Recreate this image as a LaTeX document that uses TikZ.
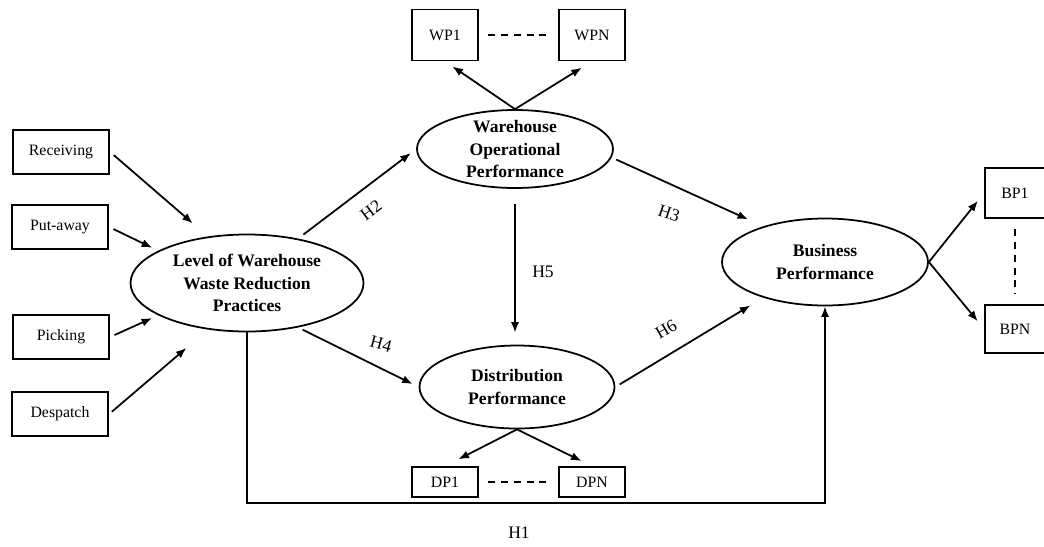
\documentclass[tikz,border=0pt]{standalone}
\usepackage{fontspec}
\setmainfont{Liberation Serif}
\usetikzlibrary{arrows.meta,shapes,positioning,calc}
\tikzset{
    causal/.style={-{Latex[length=9pt, width=7pt]}, line width=1.5pt},
    construct/.style={draw, ellipse, line width=1.5pt, inner sep=0pt, align=center, font=\fontsize{15}{19.5}\selectfont\bfseries},
    item/.style={draw, rectangle, line width=1.5pt, minimum width=2.9cm, minimum height=1.32cm, font=\fontsize{13.5}{16}\selectfont},
    link/.style={line width=1.5pt, dash pattern=on 6pt off 5pt},
    hyp/.style={font=\fontsize{15}{17}\selectfont}
}

\begin{document}
\begin{tikzpicture}[x=0.03cm, y=-0.03cm]
    \useasboundingbox (0,0) rectangle (1044,546);
    % practices
    \node[item] (rec) at (61,152) {Receiving};
    \node[item] (put) at (60,227) {Put-away};
    \node[item] (pick) at (61,337) {Picking};
    \node[item] (desp) at (60,414) {Despatch};
    % constructs
    \node[construct, minimum width=6.99cm, minimum height=2.91cm] (lwwrp) at (247,283) {Level of Warehouse\\Waste Reduction\\Practices};
    \node[construct, minimum width=5.88cm, minimum height=2.34cm, inner ysep=-4pt] (wop) at (515,149) {Warehouse\\Operational\\Performance};
    \node[construct, minimum width=5.85cm, minimum height=2.49cm] (dist) at (517,387) {Distribution\\Performance};
    \node[construct, minimum width=6.18cm, minimum height=2.61cm] (bus) at (825,262) {Business\\Performance};
    % indicators
    \node[item, minimum width=1.98cm, minimum height=1.53cm] (wp1) at (445,35) {WP1};
    \node[item, minimum width=1.98cm, minimum height=1.53cm] (wpn) at (592,35) {WPN};
    \node[item, minimum width=1.98cm, minimum height=0.9cm] (dp1) at (445,482) {DP1};
    \node[item, minimum width=1.98cm, minimum height=0.9cm] (dpn) at (592,482) {DPN};
    \node[item, minimum width=1.8cm, minimum height=1.5cm] (bp1) at (1015,193) {BP1};
    \node[item, minimum width=1.8cm, minimum height=1.45cm] (bpn) at (1015,329) {BPN};
    \coordinate (h1) at (519,503);

    \draw[causal, shorten <=4pt, shorten >=0.6cm] (rec.east) -- (lwwrp.130);
    \draw[causal, shorten <=4pt, shorten >=0.2cm] (put.east) -- (lwwrp.160);
    \draw[causal, shorten <=4pt, shorten >=0.2cm] (pick.east) -- (lwwrp.200);
    \draw[causal, shorten <=3pt, shorten >=0.85cm] (desp.east) -- (lwwrp.230);

    \draw[causal, shorten <=0.2cm, shorten >=0.2cm] (lwwrp.41) -- (wop.west);
    \draw[causal, shorten <=0.15cm, shorten >=0.2cm] (lwwrp.-41) -- (dist.west);
    \draw[causal, shorten <=0.15cm, shorten >=0.5cm] (wop.-5) -- (bus.150);
    \draw[causal, shorten <=0.15cm, shorten >=0.45cm] (dist.east) -- (bus.210);
    \draw[causal, shorten <=0.45cm, shorten >=0.36cm] (wop.south) -- (wop.south |- dist.north);
    \draw[causal] (lwwrp.south) |- (h1) -| (bus.south);

    \draw[causal, shorten >=0.27cm] (wop.north) -- (wp1.south);
    \draw[causal, shorten >=0.36cm] (wop.north) -- (wpn.south);
    \draw[causal, shorten >=0.45cm] (dist.south) -- (dp1.north);
    \draw[causal, shorten >=0.35cm] (dist.south) -- (dpn.north);
    \draw[causal, shorten >=0.3cm] (bus.east) -- (bp1.west);
    \draw[causal, shorten >=0.3cm] (bus.east) -- (bpn.west);

    \draw[link, shorten <=0.27cm, shorten >=0.27cm] (wp1) -- (wpn);
    \draw[link, shorten <=0.27cm, shorten >=0.27cm] (dp1) -- (dpn);
    \draw[link, shorten <=0.3cm, shorten >=0.3cm] (bp1) -- (bpn);

    % hypotheses
    \node[hyp, rotate=37] at (371,210) {H2};
    \node[hyp, rotate=-15] at (381,344) {H4};
    \node[hyp, rotate=-18] at (669,213) {H3};
    \node[hyp, rotate=30] at (666,329) {H6};
    \node[hyp] at (543,272) {H5};
    \node[hyp, below=0.6cm of h1] {H1};
\end{tikzpicture}
\end{document}
